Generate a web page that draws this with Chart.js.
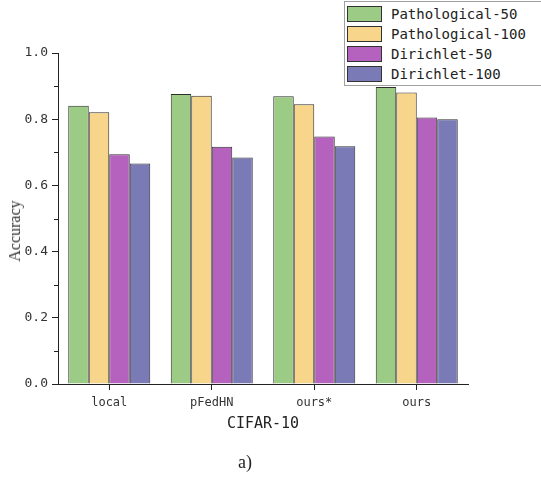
<!DOCTYPE html>
<html>
<head>
<meta charset="utf-8">
<script src="https://cdn.jsdelivr.net/npm/chart.js@4/dist/chart.umd.min.js"></script>
<style>
  html, body { margin: 0; padding: 0; background: #fff; }
  #wrap { position: relative; width: 541px; height: 478px; }
  #legend {
    position: absolute; left: 344px; top: 1px; width: 195px;
    border: 1px solid #a0a0a0; background: #fff; padding: 2px 0 1px 2px;
    font-family: "DejaVu Sans Mono", "Liberation Mono", monospace; font-size: 14px; color: #222;
  }
  #legend .row { display: flex; align-items: center; height: 20px; }
  #legend .sw { width: 35px; height: 16px; border: 1px solid #333; margin-right: 9px; box-sizing: border-box; }
  #caption {
    position: absolute; left: 238px; top: 452px;
    font-family: "Liberation Serif", serif; font-size: 18px; color: #222;
  }
  #ytitle {
    position: absolute; left: 15px; top: 231px; transform: translate(-50%, -50%) rotate(-90deg);
    font-family: "Liberation Serif", serif; font-size: 16px; color: #333; white-space: nowrap;
  }
</style>
</head>
<body>
<div id="wrap">
  <canvas id="chart" width="541" height="478"></canvas>
  <div id="legend"></div>
  <div id="ytitle">Accuracy</div>
  <div id="caption">a)</div>
</div>
<script>
  // CIFAR-10 accuracy per method
  const categories = ['local', 'pFedHN', 'ours*', 'ours'];
  const seriesNames = ['Pathological-50', 'Pathological-100', 'Dirichlet-50', 'Dirichlet-100'];
  const pathological50 = [0.841, 0.876, 0.869, 0.897];
  const pathological100 = [0.821, 0.871, 0.845, 0.881];
  const dirichlet50 = [0.694, 0.717, 0.748, 0.805];
  const dirichlet100 = [0.666, 0.684, 0.718, 0.800];
  const seriesColors = ['#9ccb86', '#f7d58b', '#b462bd', '#7a7ab7'];

  const values = [pathological50, pathological100, dirichlet50, dirichlet100];
  const font = "'DejaVu Sans Mono', 'Liberation Mono', monospace";

  // minor ticks every 0.1 on the y axis
  const minorTicks = {
    id: 'minorTicks',
    afterDraw(chart) {
      const y = chart.scales.y, ctx = chart.ctx;
      ctx.save();
      ctx.strokeStyle = '#222';
      ctx.lineWidth = 1;
      for (let v = 0.1; v < 1; v += 0.2) {
        const py = Math.round(y.getPixelForValue(v)) + 0.5;
        ctx.beginPath();
        ctx.moveTo(y.right - 4, py);
        ctx.lineTo(y.right, py);
        ctx.stroke();
      }
      ctx.restore();
    }
  };

  new Chart(document.getElementById('chart'), {
    type: 'bar',
    data: {
      labels: categories,
      datasets: seriesNames.map((name, i) => ({
        label: name,
        data: values[i],
        backgroundColor: seriesColors[i],
        borderColor: '#2e2e2e',
        borderWidth: 1,
        categoryPercentage: 0.8,
        barPercentage: 1.0
      }))
    },
    options: {
      responsive: false,
      animation: false,
      layout: { padding: { left: 0, top: 53, right: 73, bottom: 34 } },
      plugins: { legend: { display: false }, tooltip: { enabled: false } },
      scales: {
        x: {
          grid: { drawOnChartArea: false, offset: false, tickLength: 6, color: '#222' },
          border: { color: '#222', width: 1 },
          ticks: { padding: 6, color: '#333', font: { family: font, size: 12 } },
          title: { display: true, text: 'CIFAR-10', color: '#222', font: { family: font, size: 15 }, padding: { top: 0, bottom: 11 } },
          afterFit: s => { s.height = 60; }
        },
        y: {
          min: 0, max: 1,
          grid: { drawOnChartArea: false, tickLength: 6, color: '#222' },
          border: { color: '#222', width: 1 },
          ticks: { stepSize: 0.2, padding: 4, color: '#333', font: { family: font, size: 13 }, callback: v => v.toFixed(1) },
          afterFit: s => { s.width = 58; }
        }
      }
    },
    plugins: [minorTicks]
  });

  document.getElementById('legend').innerHTML = seriesNames.map((n, i) =>
    `<div class="row"><div class="sw" style="background:${seriesColors[i]}"></div>${n}</div>`).join('');
</script>
</body>
</html>
